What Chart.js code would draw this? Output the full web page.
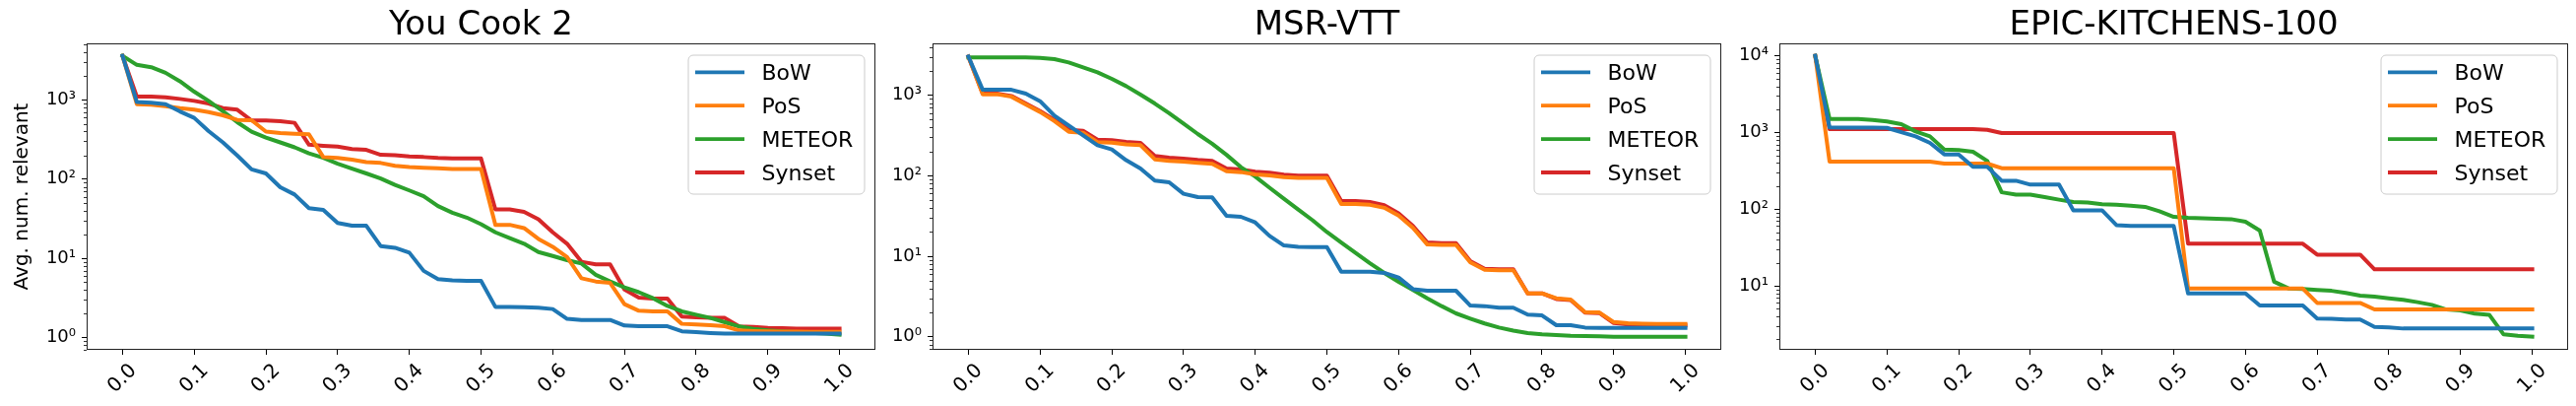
<!DOCTYPE html>
<html lang="en">
<head>
<meta charset="UTF-8" />
<title>Avg. num. relevant</title>
<script src="https://cdn.jsdelivr.net/npm/chart.js"></script>
<style>
  html, body { margin: 0; padding: 0; background: #fff; overflow: hidden; }
  body { width: 2616px; height: 412px; position: relative; }
  .panel { position: absolute; top: 0; width: 892px; height: 412px; }
</style>
</head>
<body>
<div class="panel" style="left:0px"><canvas id="c0"></canvas></div>
<div class="panel" style="left:859px"><canvas id="c1"></canvas></div>
<div class="panel" style="left:1719px"><canvas id="c2"></canvas></div>
<script>
// x positions of the curves
const recall = [0, 0.02, 0.04, 0.06, 0.08, 0.1, 0.12, 0.14, 0.16, 0.18, 0.2, 0.22, 0.24, 0.26, 0.28,
  0.3, 0.32, 0.34, 0.36, 0.38, 0.4, 0.42, 0.44, 0.46, 0.48, 0.5, 0.52, 0.54, 0.56, 0.58, 0.6,
  0.62, 0.64, 0.66, 0.68, 0.7, 0.72, 0.74, 0.76, 0.78, 0.8, 0.82, 0.84, 0.86, 0.88, 0.9,
  0.92, 0.94, 0.96, 0.98, 1.0];

const seriesNames = ['BoW', 'PoS', 'METEOR', 'Synset'];
const seriesColors = ['#1f77b4', '#ff7f0e', '#2ca02c', '#d62728'];
const panelTitles = ['You Cook 2', 'MSR-VTT', 'EPIC-KITCHENS-100'];
const yAxisLabel = 'Avg. num. relevant';

const xTickValues = [0, 0.1, 0.2, 0.3, 0.4, 0.5, 0.6, 0.7, 0.8, 0.9, 1.0];
const xTickLabels = ['0.0', '0.1', '0.2', '0.3', '0.4', '0.5', '0.6', '0.7', '0.8', '0.9', '1.0'];
const decadeValues = [1, 10, 100, 1000, 10000];
const decadeLabels = ['10⁰', '10¹', '10²', '10³', '10⁴'];

// axis limits per panel
const yMins = [0.731, 0.687, 1.46];
const yMaxs = [5176, 4416, 14560];

// You Cook 2
const youcookBoW = [3600, 940, 920, 885, 716, 593, 405, 291, 199, 133,
  118, 79, 64, 43, 41, 28, 25.8, 25.8, 14.3, 13.6,
  11.8, 6.95, 5.47, 5.27, 5.2, 5.2, 2.44, 2.44, 2.42, 2.38,
  2.29, 1.72, 1.67, 1.67, 1.67, 1.42, 1.39, 1.39, 1.39, 1.2,
  1.17, 1.14, 1.12, 1.12, 1.12, 1.12, 1.12, 1.12, 1.12, 1.12, 1.12];
const youcookPoS = [3600, 884, 867, 835, 788, 752, 703, 640, 560, 555,
  398, 383, 375, 368, 190, 185, 176, 164, 160, 147,
  142, 139, 137, 134, 134, 134, 26.5, 26.5, 24.1, 17.6,
  14, 10.4, 5.6, 5.1, 4.9, 2.64, 2.18, 2.14, 2.14, 1.49,
  1.46, 1.43, 1.39, 1.23, 1.21, 1.2, 1.19, 1.19, 1.18, 1.18, 1.18];
const youcookMeteor = [3600, 2770, 2590, 2200, 1720, 1270, 972, 718, 524, 398,
  335, 291, 252, 212, 186, 157, 136, 118, 102, 84.6,
  72, 60.7, 45.6, 37.7, 32.7, 27, 21.3, 18, 15.3, 12,
  10.7, 9.5, 8.6, 6.2, 5.1, 4.3, 3.74, 3.13, 2.51, 2.14,
  1.94, 1.77, 1.56, 1.38, 1.29, 1.23, 1.2, 1.17, 1.15, 1.12, 1.09];
const youcookSynset = [3600, 1100, 1100, 1080, 1030, 972, 901, 788, 752, 550,
  550, 539, 514, 272, 264, 257, 240, 234, 203, 200,
  193, 190, 185, 182, 182, 182, 41.4, 41.4, 38.7, 31.2,
  21.3, 15.3, 9.06, 8.4, 8.4, 4.04, 3.19, 3.1, 3.1, 1.84,
  1.8, 1.77, 1.77, 1.38, 1.36, 1.32, 1.31, 1.3, 1.3, 1.3, 1.3];

// MSR-VTT
const msrvttBoW = [3030, 1170, 1170, 1170, 1050, 845, 558, 421, 318, 240,
  212, 156, 123, 86.9, 82.8, 59.7, 54.3, 54, 31.8, 30.9,
  26.3, 17.9, 13.6, 13.1, 13, 13, 6.4, 6.4, 6.4, 6.2,
  5.43, 3.9, 3.73, 3.73, 3.73, 2.44, 2.4, 2.29, 2.29, 1.88,
  1.84, 1.39, 1.39, 1.3, 1.29, 1.29, 1.29, 1.29, 1.29, 1.29, 1.29];
const msrvttPoS = [3030, 1030, 1030, 960, 770, 620, 478, 352, 342, 262,
  258, 246, 240, 160, 153, 150, 145, 141, 114, 111,
  104, 101, 96, 94, 94, 94, 44.5, 44.5, 43.5, 40,
  32, 22.5, 14, 13.8, 13.8, 8.4, 6.8, 6.7, 6.7, 3.45,
  3.45, 3.0, 2.9, 2.02, 2.0, 1.52, 1.47, 1.45, 1.44, 1.44, 1.44];
const msrvttMeteor = [2960, 2960, 2960, 2960, 2950, 2920, 2810, 2560, 2220, 1930,
  1600, 1300, 1020, 790, 600, 445, 330, 250, 182, 128,
  98, 71, 52, 38, 28, 20, 14.8, 11, 8.2, 6.2,
  4.8, 3.8, 3.0, 2.4, 1.95, 1.68, 1.46, 1.3, 1.19, 1.11,
  1.07, 1.05, 1.03, 1.02, 1.01, 1.0, 1.0, 1.0, 1.0, 1.0, 1.0];
const msrvttSynset = [3030, 1050, 1050, 980, 790, 637, 494, 373, 362, 281,
  277, 263, 256, 176, 168, 163, 157, 153, 123, 120,
  112, 109, 103, 100, 100, 100, 48.5, 48.5, 47.2, 43,
  34, 23.8, 14.8, 14.5, 14.5, 8.7, 7.0, 6.9, 6.9, 3.46,
  3.46, 2.94, 2.86, 1.99, 1.97, 1.48, 1.42, 1.39, 1.38, 1.38, 1.38];

// EPIC-KITCHENS-100
const epicBoW = [10000, 1163, 1160, 1160, 1160, 1150, 1010, 891, 731, 518,
  518, 356, 356, 235, 235, 209, 209, 209, 96.6, 96.6,
  96.6, 62, 60.3, 60.3, 60.3, 60.3, 7.96, 7.96, 7.96, 7.96,
  7.96, 5.52, 5.53, 5.53, 5.53, 3.73, 3.7, 3.62, 3.62, 2.91,
  2.87, 2.77, 2.77, 2.77, 2.77, 2.77, 2.77, 2.77, 2.77, 2.77, 2.77];
const epicPoS = [10000, 417, 417, 417, 417, 417, 417, 417, 417, 393,
  393, 393, 393, 342, 342, 342, 342, 342, 342, 342,
  342, 342, 342, 342, 342, 342, 9.2, 9.2, 9.2, 9.2,
  9.2, 9.2, 9.2, 9.2, 9.2, 5.98, 5.98, 5.98, 5.98, 4.91,
  4.91, 4.91, 4.91, 4.91, 4.91, 4.91, 4.91, 4.91, 4.91, 4.91, 4.91];
const epicMeteor = [10000, 1503, 1500, 1500, 1460, 1390, 1283, 1032, 891, 600,
  590, 560, 425, 166, 155, 155, 144, 133, 124, 122,
  116, 114, 111, 107, 94, 79.4, 77.2, 76, 75, 74,
  68.5, 52.5, 11.3, 9.25, 9.06, 8.8, 8.6, 8.05, 7.43, 7.2,
  6.87, 6.55, 6.11, 5.64, 4.91, 4.77, 4.32, 4.19, 2.32, 2.23, 2.17];
const epicSynset = [10000, 1107, 1107, 1107, 1107, 1107, 1107, 1107, 1107, 1107,
  1107, 1107, 1085, 984, 984, 984, 984, 984, 984, 984,
  984, 984, 984, 984, 984, 984, 35.4, 35.4, 35.4, 35.4,
  35.4, 35.4, 35.4, 35.4, 35.4, 25.5, 25.5, 25.5, 25.5, 16.4,
  16.4, 16.4, 16.4, 16.4, 16.4, 16.4, 16.4, 16.4, 16.4, 16.4, 16.4];

const panelSeries = [
  [youcookBoW, youcookPoS, youcookMeteor, youcookSynset],
  [msrvttBoW, msrvttPoS, msrvttMeteor, msrvttSynset],
  [epicBoW, epicPoS, epicMeteor, epicSynset]
];

Chart.defaults.font.family = '"DejaVu Sans", sans-serif';
Chart.defaults.color = '#000';

function isDecade(v) {
  const l = Math.log10(v);
  return Math.abs(l - Math.round(l)) < 1e-9;
}

// matplotlib-ish extras: frame, minor ticks, rotated x labels, title, y label, legend
const mplDecor = {
  id: 'mplDecor',
  afterDraw(chart, args, opts) {
    const { ctx, chartArea: a } = chart;
    const xs = chart.scales.x, ys = chart.scales.y;
    ctx.save();

    ctx.strokeStyle = '#000';
    ctx.lineWidth = 0.8;
    ys.ticks.forEach(t => {
      if (isDecade(t.value)) return;
      const py = Math.round(ys.getPixelForValue(t.value)) + 0.5;
      ctx.beginPath();
      ctx.moveTo(a.left - 3, py);
      ctx.lineTo(a.left, py);
      ctx.stroke();
    });

    ctx.lineWidth = 1;
    ctx.strokeStyle = '#222';
    ctx.strokeRect(a.left + 0.5, a.top + 0.5, a.right - a.left - 1, a.bottom - a.top - 1);

    ctx.fillStyle = '#000';
    ctx.font = '20px "DejaVu Sans"';
    ctx.textAlign = 'center';
    ctx.textBaseline = 'middle';
    xTickValues.forEach((v, i) => {
      const px = xs.getPixelForValue(v);
      const w = ctx.measureText(xTickLabels[i]).width;
      const cy = a.bottom + 11 + (w + 20) * 0.354;
      ctx.save();
      ctx.translate(px, cy);
      ctx.rotate(-Math.PI / 4);
      ctx.fillText(xTickLabels[i], 0, 0);
      ctx.restore();
    });

    ctx.font = '34px "DejaVu Sans"';
    ctx.textBaseline = 'alphabetic';
    ctx.fillText(opts.title, (a.left + a.right) / 2, 35);

    if (opts.ylabel) {
      ctx.save();
      ctx.font = '20px "DejaVu Sans"';
      ctx.translate(28, (a.top + a.bottom) / 2);
      ctx.rotate(-Math.PI / 2);
      ctx.fillText(opts.ylabel, 0, 0);
      ctx.restore();
    }

    // legend box, upper right
    const bw = 179, bh = 141;
    const bx = a.right - 11.5 - bw, by = a.top + 11.5;
    ctx.beginPath();
    ctx.roundRect(bx + 0.5, by + 0.5, bw, bh, 5);
    ctx.fillStyle = 'rgba(255,255,255,0.8)';
    ctx.fill();
    ctx.strokeStyle = '#cccccc';
    ctx.lineWidth = 1;
    ctx.stroke();
    ctx.font = '22px "DejaVu Sans"';
    ctx.textAlign = 'left';
    chart.data.datasets.forEach((ds, i) => {
      const ry = by + 17.8 + i * 33.9;
      ctx.strokeStyle = ds.borderColor;
      ctx.lineWidth = 3.8;
      ctx.beginPath();
      ctx.moveTo(bx + 7.5, ry);
      ctx.lineTo(bx + 57.5, ry);
      ctx.stroke();
      ctx.fillStyle = '#000';
      ctx.fillText(ds.label, bx + 75, ry + 8);
    });
    ctx.restore();
  }
};

panelSeries.forEach((series, p) => {
  new Chart(document.getElementById('c' + p), {
    type: 'line',
    data: {
      datasets: series.map((vals, i) => ({
        label: seriesNames[i],
        data: recall.map((r, j) => ({ x: r, y: vals[j] })),
        borderColor: seriesColors[i],
        backgroundColor: seriesColors[i],
        borderWidth: 4,
        borderJoinStyle: 'round',
        borderCapStyle: 'square',
        pointRadius: 0,
        tension: 0,
        fill: false
      }))
    },
    options: {
      responsive: true,
      maintainAspectRatio: false,
      animation: false,
      layout: { padding: { left: 0, top: 44, right: 3, bottom: 0 } },
      plugins: {
        legend: { display: false },
        tooltip: { enabled: false },
        mplDecor: { title: panelTitles[p], ylabel: p === 0 ? yAxisLabel : '' }
      },
      scales: {
        x: {
          type: 'linear',
          min: -0.05,
          max: 1.05,
          afterBuildTicks: s => { s.ticks = xTickValues.map(v => ({ value: v })); },
          afterFit: s => { s.height = 57; },
          ticks: { display: false },
          grid: { drawOnChartArea: false, drawTicks: true, tickLength: 5, tickColor: '#000', tickWidth: 1 },
          border: { display: false }
        },
        y: {
          type: 'logarithmic',
          min: yMins[p],
          max: yMaxs[p],
          afterBuildTicks: s => {
            const t = [];
            for (let e = -1; e <= 5; e++) {
              for (let k = 1; k < 10; k++) {
                const v = k * Math.pow(10, e);
                if (v >= s.min && v <= s.max) t.push({ value: v });
              }
            }
            s.ticks = t;
          },
          afterFit: s => { s.width = 88; },
          ticks: {
            autoSkip: false,
            font: { size: 18 },
            color: '#000',
            padding: 6,
            callback: v => {
              const k = decadeValues.findIndex(d => Math.abs(d - v) < 1e-6 * d);
              return k >= 0 ? decadeLabels[k] : '';
            }
          },
          grid: {
            drawOnChartArea: false,
            drawTicks: true,
            tickLength: 5,
            tickWidth: 1,
            tickColor: c => (c.tick && isDecade(c.tick.value)) ? '#000' : 'rgba(0,0,0,0)'
          },
          border: { display: false }
        }
      }
    },
    plugins: [mplDecor]
  });
});
</script>
</body>
</html>
